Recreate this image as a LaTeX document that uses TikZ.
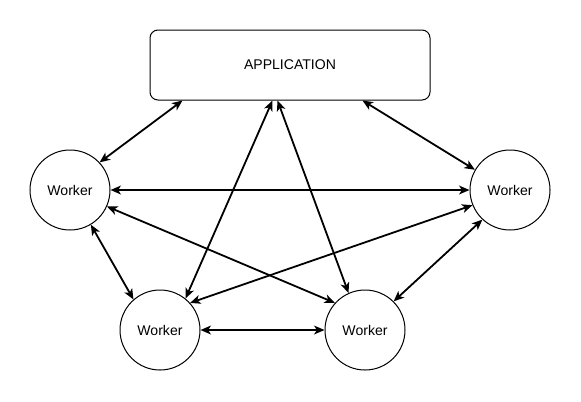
\documentclass[tikz,border=0pt]{standalone}
\usepackage{fontspec}
\setmainfont{Liberation Sans}
\usepackage{tikz}
\usetikzlibrary{arrows.meta}
\usetikzlibrary{calc}

\begin{document}
\begin{tikzpicture}[x=0.25mm, y=-0.25mm,
  worker/.style={draw, circle, line width=0.25mm, minimum size=20mm, inner sep=0pt},
  appbox/.style={draw, rectangle, rounded corners=2mm, line width=0.25mm, minimum width=70mm, minimum height=17.5mm},
  link/.style={line width=0.45mm, {Stealth[length=2.6mm,width=2.2mm,inset=0.7mm]}-{Stealth[length=2.6mm,width=2.2mm,inset=0.7mm]}}]

\useasboundingbox (0,0) rectangle (581,401);

\node[appbox] (app) at (290,65) {APPLICATION};

\node[worker] (wleft) at (70,190) {Worker};
\node[worker] (wright) at (510,190) {Worker};
\node[worker] (wbl) at (160,330) {Worker};
\node[worker] (wbr) at (365,330) {Worker};

%% application to workers
\draw[link] ($(app.south west)+(33,0)$) -- (wleft.43);
\draw[link] ($(app.south west)+(123,0)$) -- (wbl.51);
\draw[link] ($(app.south west)+(128,0)$) -- (wbr.114);
\draw[link] ($(app.south west)+(213,0)$) -- (wright.150);

%% workers to workers
\draw[link] (wleft.east) -- (wright.west);
\draw[link] (wleft.-24) -- (wbr.138);
\draw[link] (wright.202) -- (wbl.42);
\draw[link] (wleft.-59) -- (wbl.131);
\draw[link] (wright.227) -- (wbr.45);
\draw[link] (wbl.east) -- (wbr.west);

\end{tikzpicture}
\end{document}
